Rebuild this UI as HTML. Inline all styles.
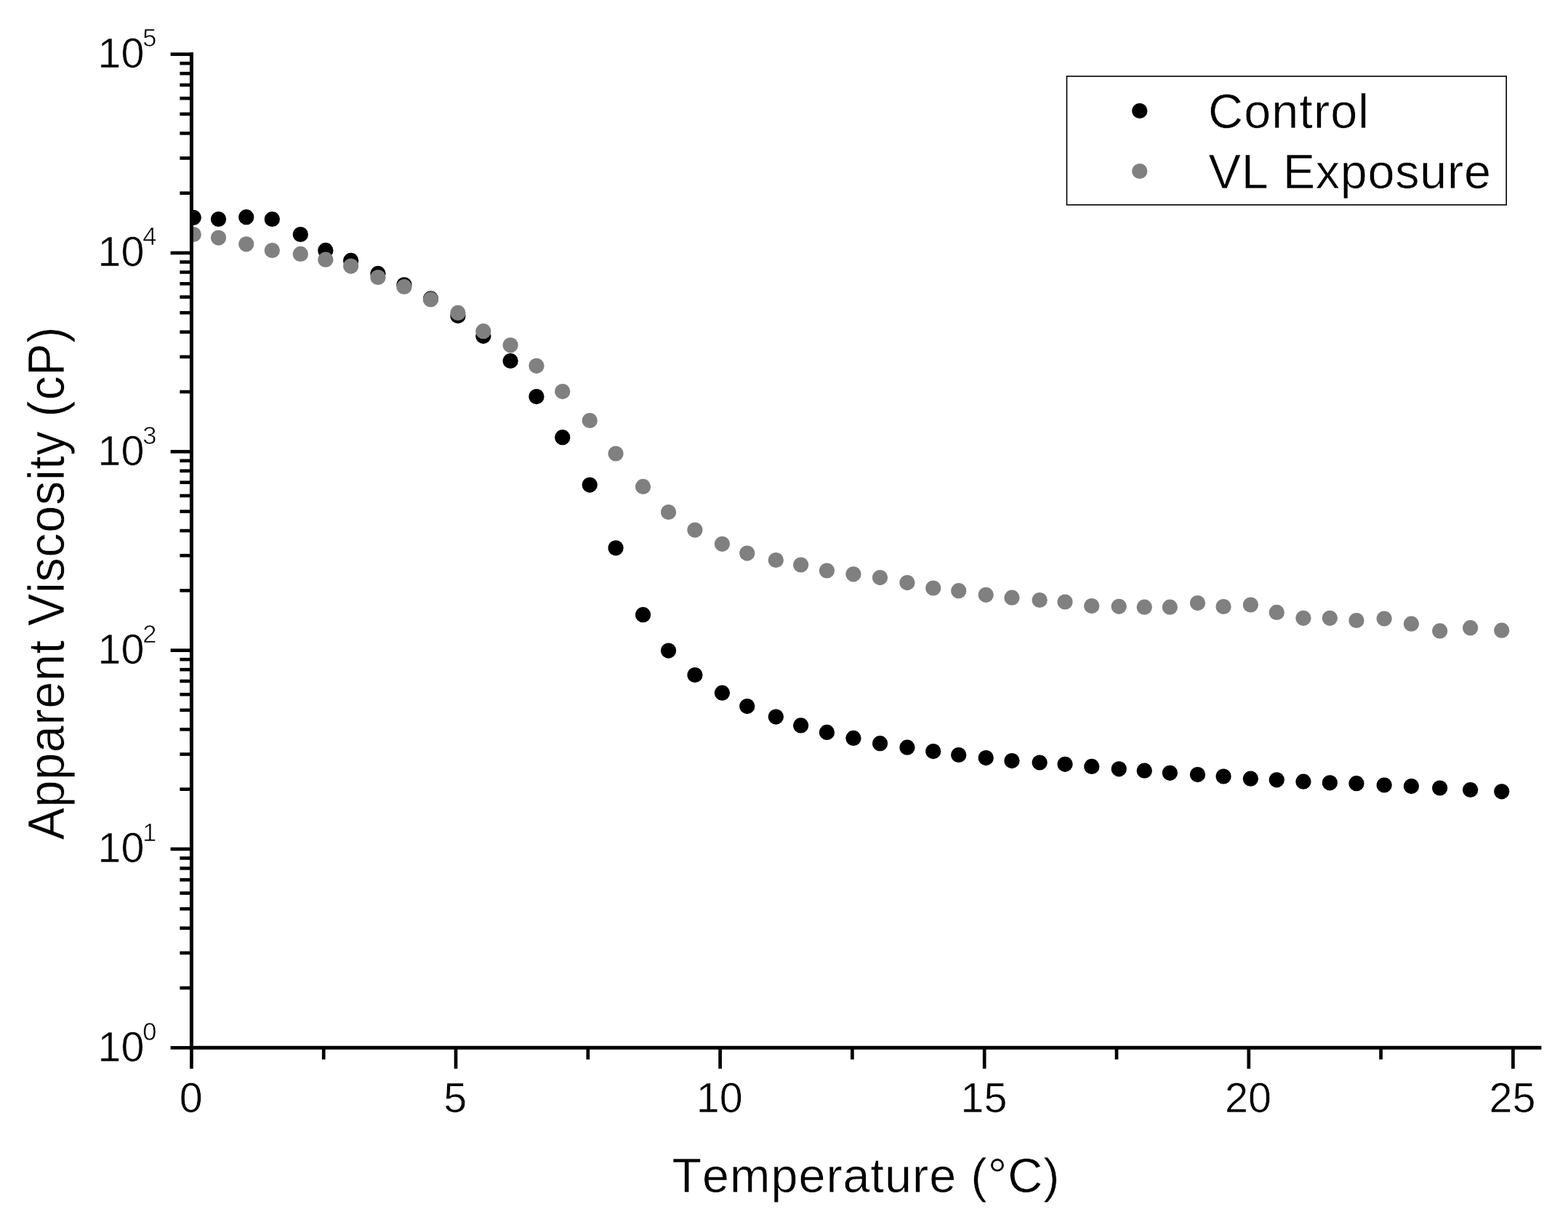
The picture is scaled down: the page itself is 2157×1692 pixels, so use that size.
<!DOCTYPE html>
<html lang="en"><head><meta charset="utf-8"><title>Apparent Viscosity vs Temperature</title>
<style>html,body{margin:0;padding:0;background:#fff}body{width:2157px;height:1692px;overflow:hidden}svg{display:block}text{font-family:"Liberation Sans",sans-serif;fill:#000;stroke:#fff;stroke-width:0.60px;stroke-linejoin:round;font-kerning:none;font-variant-ligatures:none}</style>
</head><body>
<svg width="2157" height="1692" viewBox="0 0 2157 1692">
<rect x="0" y="0" width="2157" height="1692" fill="#ffffff"/>
<defs><clipPath id="plot"><rect x="263.45" y="0" width="1893.55" height="1441.30"/></clipPath></defs>
<g clip-path="url(#plot)">
<g fill="#000000">
<circle cx="266.3" cy="299.3" r="10.60"/>
<circle cx="300.6" cy="301.5" r="10.60"/>
<circle cx="338.8" cy="298.7" r="10.60"/>
<circle cx="374.4" cy="301.5" r="10.60"/>
<circle cx="413.4" cy="322.5" r="10.60"/>
<circle cx="447.9" cy="344.4" r="10.60"/>
<circle cx="482.7" cy="358.4" r="10.60"/>
<circle cx="520.0" cy="376.4" r="10.60"/>
<circle cx="556.0" cy="391.8" r="10.60"/>
<circle cx="592.5" cy="410.9" r="10.60"/>
<circle cx="630.0" cy="434.5" r="10.60"/>
<circle cx="664.9" cy="462.3" r="10.60"/>
<circle cx="702.2" cy="496.5" r="10.60"/>
<circle cx="738.0" cy="545.6" r="10.60"/>
<circle cx="773.8" cy="601.7" r="10.60"/>
<circle cx="811.3" cy="667.1" r="10.60"/>
<circle cx="847.1" cy="753.8" r="10.60"/>
<circle cx="884.6" cy="845.7" r="10.60"/>
<circle cx="919.6" cy="895.1" r="10.60"/>
<circle cx="956.0" cy="928.5" r="10.60"/>
<circle cx="993.5" cy="953.2" r="10.60"/>
<circle cx="1027.8" cy="971.6" r="10.60"/>
<circle cx="1067.4" cy="986.1" r="10.60"/>
<circle cx="1101.7" cy="997.9" r="10.60"/>
<circle cx="1137.5" cy="1007.4" r="10.60"/>
<circle cx="1174.0" cy="1015.4" r="10.60"/>
<circle cx="1210.6" cy="1022.7" r="10.60"/>
<circle cx="1248.0" cy="1028.2" r="10.60"/>
<circle cx="1283.8" cy="1033.6" r="10.60"/>
<circle cx="1318.8" cy="1038.5" r="10.60"/>
<circle cx="1356.3" cy="1042.6" r="10.60"/>
<circle cx="1392.0" cy="1046.6" r="10.60"/>
<circle cx="1430.2" cy="1049.0" r="10.60"/>
<circle cx="1465.1" cy="1051.3" r="10.60"/>
<circle cx="1501.8" cy="1054.4" r="10.60"/>
<circle cx="1539.3" cy="1057.8" r="10.60"/>
<circle cx="1574.3" cy="1060.2" r="10.60"/>
<circle cx="1609.4" cy="1063.3" r="10.60"/>
<circle cx="1647.5" cy="1065.6" r="10.60"/>
<circle cx="1683.1" cy="1068.0" r="10.60"/>
<circle cx="1720.4" cy="1071.2" r="10.60"/>
<circle cx="1756.3" cy="1072.8" r="10.60"/>
<circle cx="1793.0" cy="1075.2" r="10.60"/>
<circle cx="1829.4" cy="1076.8" r="10.60"/>
<circle cx="1866.0" cy="1077.7" r="10.60"/>
<circle cx="1904.2" cy="1080.0" r="10.60"/>
<circle cx="1941.5" cy="1081.6" r="10.60"/>
<circle cx="1980.7" cy="1084.0" r="10.60"/>
<circle cx="2022.7" cy="1086.5" r="10.60"/>
<circle cx="2065.8" cy="1088.8" r="10.60"/>
</g>
<g fill="#808080">
<circle cx="266.3" cy="322.5" r="10.60"/>
<circle cx="300.6" cy="327.1" r="10.60"/>
<circle cx="338.8" cy="335.8" r="10.60"/>
<circle cx="374.4" cy="344.5" r="10.60"/>
<circle cx="413.4" cy="349.4" r="10.60"/>
<circle cx="447.9" cy="357.2" r="10.60"/>
<circle cx="482.7" cy="366.1" r="10.60"/>
<circle cx="520.0" cy="381.5" r="10.60"/>
<circle cx="556.0" cy="394.5" r="10.60"/>
<circle cx="592.5" cy="411.9" r="10.60"/>
<circle cx="630.0" cy="430.4" r="10.60"/>
<circle cx="664.9" cy="455.7" r="10.60"/>
<circle cx="702.2" cy="474.8" r="10.60"/>
<circle cx="738.0" cy="503.3" r="10.60"/>
<circle cx="773.8" cy="538.6" r="10.60"/>
<circle cx="811.3" cy="578.5" r="10.60"/>
<circle cx="847.1" cy="624.0" r="10.60"/>
<circle cx="884.6" cy="669.4" r="10.60"/>
<circle cx="919.6" cy="704.5" r="10.60"/>
<circle cx="956.0" cy="729.1" r="10.60"/>
<circle cx="993.5" cy="748.3" r="10.60"/>
<circle cx="1027.8" cy="761.1" r="10.60"/>
<circle cx="1067.4" cy="770.5" r="10.60"/>
<circle cx="1101.7" cy="777.0" r="10.60"/>
<circle cx="1137.5" cy="785.0" r="10.60"/>
<circle cx="1174.0" cy="789.8" r="10.60"/>
<circle cx="1210.6" cy="794.6" r="10.60"/>
<circle cx="1248.0" cy="801.6" r="10.60"/>
<circle cx="1283.8" cy="809.0" r="10.60"/>
<circle cx="1318.8" cy="812.7" r="10.60"/>
<circle cx="1356.3" cy="818.3" r="10.60"/>
<circle cx="1392.0" cy="822.2" r="10.60"/>
<circle cx="1430.2" cy="825.5" r="10.60"/>
<circle cx="1465.1" cy="828.0" r="10.60"/>
<circle cx="1501.8" cy="833.6" r="10.60"/>
<circle cx="1539.3" cy="834.3" r="10.60"/>
<circle cx="1574.3" cy="835.2" r="10.60"/>
<circle cx="1609.4" cy="835.2" r="10.60"/>
<circle cx="1647.5" cy="829.6" r="10.60"/>
<circle cx="1683.1" cy="834.5" r="10.60"/>
<circle cx="1720.4" cy="832.0" r="10.60"/>
<circle cx="1756.3" cy="842.4" r="10.60"/>
<circle cx="1793.0" cy="850.3" r="10.60"/>
<circle cx="1829.4" cy="850.3" r="10.60"/>
<circle cx="1866.0" cy="853.5" r="10.60"/>
<circle cx="1904.2" cy="851.0" r="10.60"/>
<circle cx="1941.5" cy="858.2" r="10.60"/>
<circle cx="1980.7" cy="867.9" r="10.60"/>
<circle cx="2022.7" cy="863.7" r="10.60"/>
<circle cx="2065.8" cy="867.2" r="10.60"/>
</g></g>
<g stroke="#000" stroke-width="5.00" fill="none" stroke-linecap="butt">
<line x1="263.45" y1="72.10" x2="263.45" y2="1443.80"/>
<line x1="260.95" y1="1441.30" x2="2120.40" y2="1441.30"/>
<line x1="234.60" y1="1441.30" x2="263.45" y2="1441.30" stroke-width="4.70"/>
<line x1="247.40" y1="1359.02" x2="263.45" y2="1359.02" stroke-width="4.60"/>
<line x1="247.40" y1="1310.88" x2="263.45" y2="1310.88" stroke-width="4.60"/>
<line x1="247.40" y1="1276.73" x2="263.45" y2="1276.73" stroke-width="4.60"/>
<line x1="247.40" y1="1250.24" x2="263.45" y2="1250.24" stroke-width="4.60"/>
<line x1="247.40" y1="1228.60" x2="263.45" y2="1228.60" stroke-width="4.60"/>
<line x1="247.40" y1="1210.30" x2="263.45" y2="1210.30" stroke-width="4.60"/>
<line x1="247.40" y1="1194.45" x2="263.45" y2="1194.45" stroke-width="4.60"/>
<line x1="247.40" y1="1180.47" x2="263.45" y2="1180.47" stroke-width="4.60"/>
<line x1="234.60" y1="1167.96" x2="263.45" y2="1167.96" stroke-width="4.70"/>
<line x1="247.40" y1="1085.68" x2="263.45" y2="1085.68" stroke-width="4.60"/>
<line x1="247.40" y1="1037.54" x2="263.45" y2="1037.54" stroke-width="4.60"/>
<line x1="247.40" y1="1003.39" x2="263.45" y2="1003.39" stroke-width="4.60"/>
<line x1="247.40" y1="976.90" x2="263.45" y2="976.90" stroke-width="4.60"/>
<line x1="247.40" y1="955.26" x2="263.45" y2="955.26" stroke-width="4.60"/>
<line x1="247.40" y1="936.96" x2="263.45" y2="936.96" stroke-width="4.60"/>
<line x1="247.40" y1="921.11" x2="263.45" y2="921.11" stroke-width="4.60"/>
<line x1="247.40" y1="907.13" x2="263.45" y2="907.13" stroke-width="4.60"/>
<line x1="234.60" y1="894.62" x2="263.45" y2="894.62" stroke-width="4.70"/>
<line x1="247.40" y1="812.34" x2="263.45" y2="812.34" stroke-width="4.60"/>
<line x1="247.40" y1="764.20" x2="263.45" y2="764.20" stroke-width="4.60"/>
<line x1="247.40" y1="730.05" x2="263.45" y2="730.05" stroke-width="4.60"/>
<line x1="247.40" y1="703.56" x2="263.45" y2="703.56" stroke-width="4.60"/>
<line x1="247.40" y1="681.92" x2="263.45" y2="681.92" stroke-width="4.60"/>
<line x1="247.40" y1="663.62" x2="263.45" y2="663.62" stroke-width="4.60"/>
<line x1="247.40" y1="647.77" x2="263.45" y2="647.77" stroke-width="4.60"/>
<line x1="247.40" y1="633.79" x2="263.45" y2="633.79" stroke-width="4.60"/>
<line x1="234.60" y1="621.28" x2="263.45" y2="621.28" stroke-width="4.70"/>
<line x1="247.40" y1="539.00" x2="263.45" y2="539.00" stroke-width="4.60"/>
<line x1="247.40" y1="490.86" x2="263.45" y2="490.86" stroke-width="4.60"/>
<line x1="247.40" y1="456.71" x2="263.45" y2="456.71" stroke-width="4.60"/>
<line x1="247.40" y1="430.22" x2="263.45" y2="430.22" stroke-width="4.60"/>
<line x1="247.40" y1="408.58" x2="263.45" y2="408.58" stroke-width="4.60"/>
<line x1="247.40" y1="390.28" x2="263.45" y2="390.28" stroke-width="4.60"/>
<line x1="247.40" y1="374.43" x2="263.45" y2="374.43" stroke-width="4.60"/>
<line x1="247.40" y1="360.45" x2="263.45" y2="360.45" stroke-width="4.60"/>
<line x1="234.60" y1="347.94" x2="263.45" y2="347.94" stroke-width="4.70"/>
<line x1="247.40" y1="265.66" x2="263.45" y2="265.66" stroke-width="4.60"/>
<line x1="247.40" y1="217.52" x2="263.45" y2="217.52" stroke-width="4.60"/>
<line x1="247.40" y1="183.37" x2="263.45" y2="183.37" stroke-width="4.60"/>
<line x1="247.40" y1="156.88" x2="263.45" y2="156.88" stroke-width="4.60"/>
<line x1="247.40" y1="135.24" x2="263.45" y2="135.24" stroke-width="4.60"/>
<line x1="247.40" y1="116.94" x2="263.45" y2="116.94" stroke-width="4.60"/>
<line x1="247.40" y1="101.09" x2="263.45" y2="101.09" stroke-width="4.60"/>
<line x1="247.40" y1="87.11" x2="263.45" y2="87.11" stroke-width="4.60"/>
<line x1="234.60" y1="74.60" x2="263.45" y2="74.60" stroke-width="4.70"/>
<line x1="263.45" y1="1441.30" x2="263.45" y2="1470.20" stroke-width="4.70"/>
<line x1="445.25" y1="1441.30" x2="445.25" y2="1457.40" stroke-width="4.70"/>
<line x1="627.04" y1="1441.30" x2="627.04" y2="1470.20" stroke-width="4.70"/>
<line x1="808.84" y1="1441.30" x2="808.84" y2="1457.40" stroke-width="4.70"/>
<line x1="990.63" y1="1441.30" x2="990.63" y2="1470.20" stroke-width="4.70"/>
<line x1="1172.42" y1="1441.30" x2="1172.42" y2="1457.40" stroke-width="4.70"/>
<line x1="1354.22" y1="1441.30" x2="1354.22" y2="1470.20" stroke-width="4.70"/>
<line x1="1536.02" y1="1441.30" x2="1536.02" y2="1457.40" stroke-width="4.70"/>
<line x1="1717.81" y1="1441.30" x2="1717.81" y2="1470.20" stroke-width="4.70"/>
<line x1="1899.61" y1="1441.30" x2="1899.61" y2="1457.40" stroke-width="4.70"/>
<line x1="2081.40" y1="1441.30" x2="2081.40" y2="1470.20" stroke-width="4.70"/>
</g>
<g font-size="57.50px">
<text x="134.50" y="1459.80">10<tspan font-size="34.50px" dy="-29.20" dx="-2.20">0</tspan></text>
<text x="134.50" y="1186.46">10<tspan font-size="34.50px" dy="-29.20" dx="-2.20">1</tspan></text>
<text x="134.50" y="913.12">10<tspan font-size="34.50px" dy="-29.20" dx="-2.20">2</tspan></text>
<text x="134.50" y="639.78">10<tspan font-size="34.50px" dy="-29.20" dx="-2.20">3</tspan></text>
<text x="134.50" y="366.44">10<tspan font-size="34.50px" dy="-29.20" dx="-2.20">4</tspan></text>
<text x="134.50" y="93.10">10<tspan font-size="34.50px" dy="-29.20" dx="-2.20">5</tspan></text>
<text x="262.65" y="1530.20" text-anchor="middle">0</text>
<text x="626.24" y="1530.20" text-anchor="middle">5</text>
<text x="989.83" y="1530.20" text-anchor="middle">10</text>
<text x="1353.42" y="1530.20" text-anchor="middle">15</text>
<text x="1717.01" y="1530.20" text-anchor="middle">20</text>
<text x="2080.60" y="1530.20" text-anchor="middle">25</text>
</g>
<text x="924.50" y="1640.40" font-size="66.50px" textLength="533.00" lengthAdjust="spacing">Temperature (°C)</text>
<text transform="translate(87.90 1155.50) rotate(-90) scale(1 1.050)" font-size="66.50px" textLength="706.00" lengthAdjust="spacing">Apparent Viscosity (cP)</text>
<rect x="1467.50" y="104.90" width="604.70" height="176.90" fill="#fff" stroke="#000" stroke-width="1.60"/>
<circle cx="1567.80" cy="152.50" r="10.60" fill="#000"/>
<circle cx="1567.80" cy="235.50" r="10.60" fill="#808080"/>
<text x="1662.00" y="175.60" font-size="66.50px" textLength="221.00" lengthAdjust="spacing">Control</text>
<text x="1662.50" y="258.80" font-size="66.50px" textLength="388.50" lengthAdjust="spacing">VL Exposure</text>
</svg>
</body></html>
